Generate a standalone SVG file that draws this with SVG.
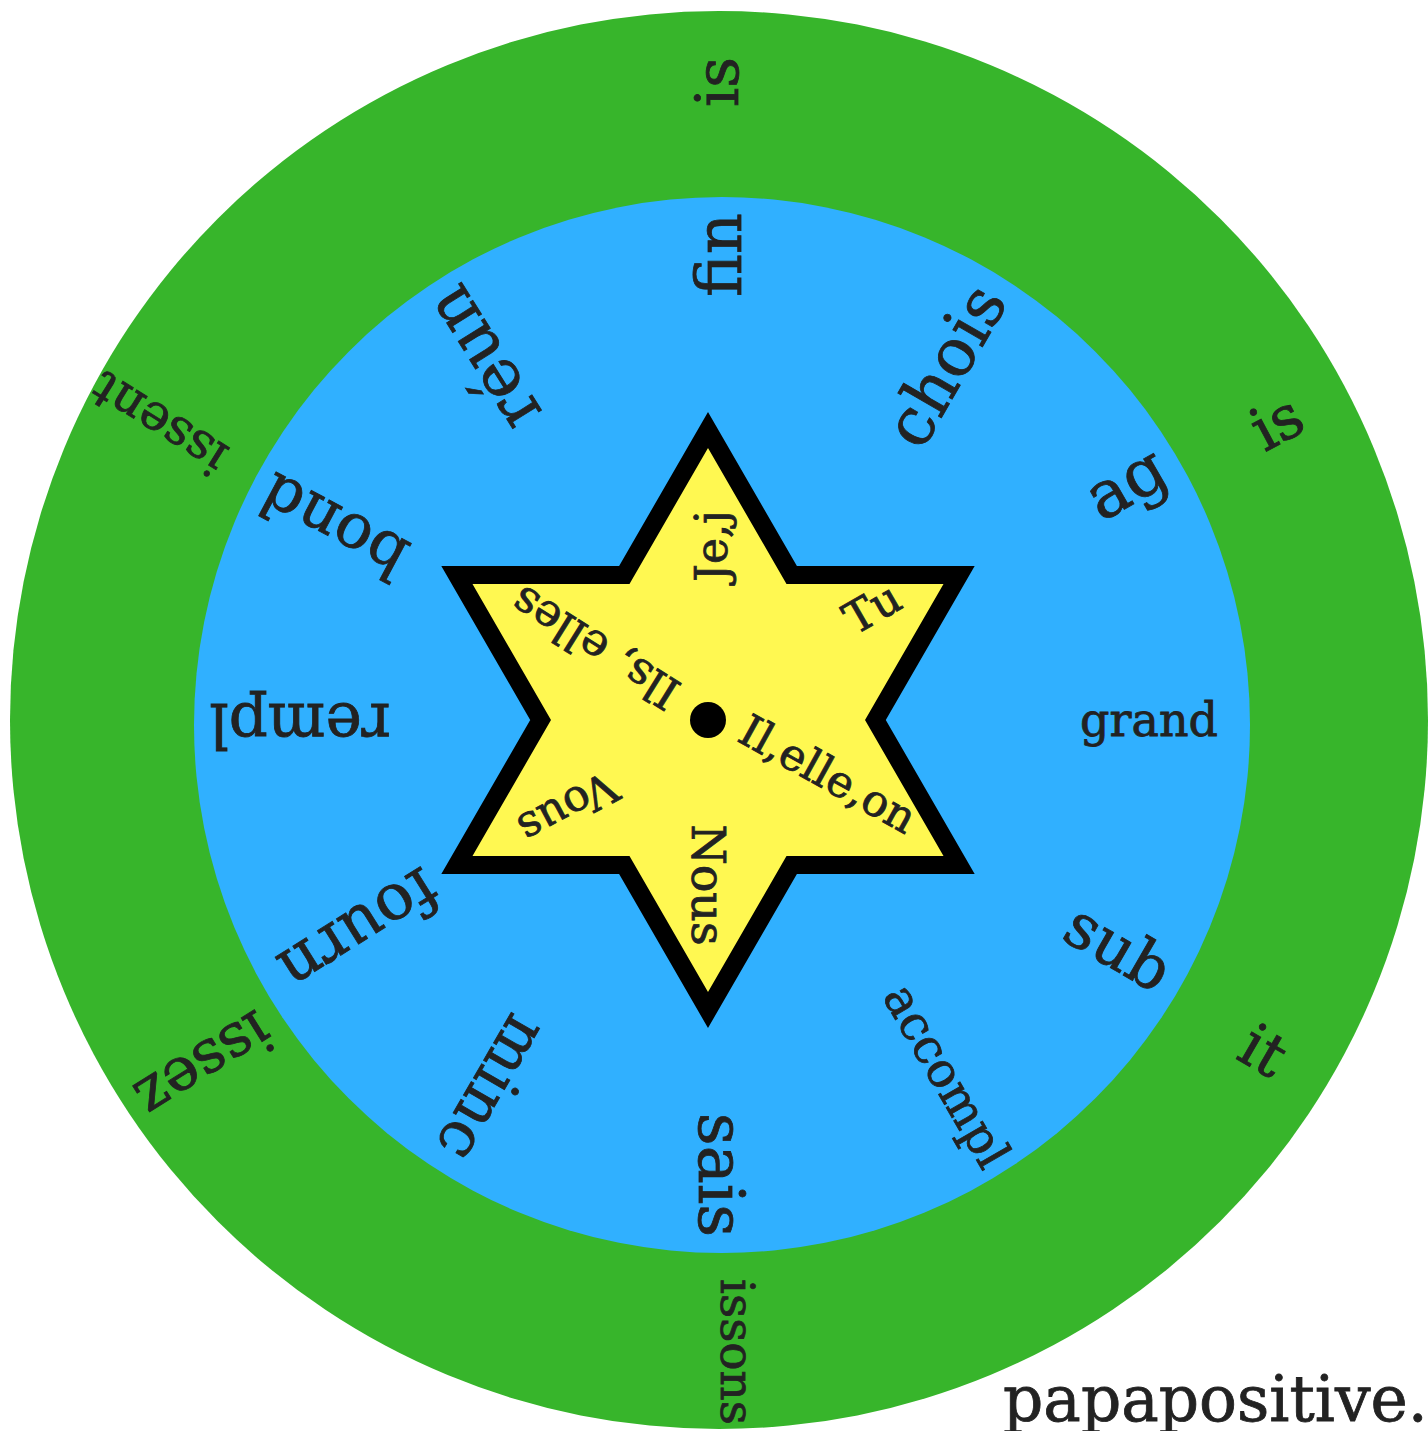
<svg xmlns="http://www.w3.org/2000/svg" width="1428" height="1431" viewBox="0 0 1428 1431">
<style>
text{font-family:"DejaVu Serif","Liberation Serif",serif;fill:#222222;stroke:#222222;stroke-width:0.8;text-anchor:middle}
.big{font-size:64px}
.ring{font-size:60px}
.star{font-size:44px}
</style>
<rect width="1428" height="1431" fill="#ffffff"/>
<g id="outer-ring"><circle cx="719" cy="720" r="709" fill="#37b52b"/></g>
<g id="inner-ring"><circle cx="722" cy="725" r="528" fill="#30b0ff"/></g>
<g id="star">
<path d="M708,430 L791.7,575 L959.1,575 L875.4,720 L959.1,865 L791.7,865 L708,1010 L624.3,865 L456.9,865 L540.6,720 L456.9,575 L624.3,575 Z" fill="#fff851" stroke="#000" stroke-width="18" stroke-linejoin="miter" stroke-miterlimit="10"/>
<circle cx="708" cy="720" r="18" fill="#000"/>
</g>
<g id="pronouns" class="star">
<text transform="translate(712,546) rotate(-90)" dy="0.35em">Je,j</text>
<text transform="translate(872,608) rotate(-30)" dy="0.35em">Tu</text>
<text transform="translate(828,774) rotate(29)" dy="0.35em">Il,elle,on</text>
<text transform="translate(708,885) rotate(90)" dy="0.35em" font-size="46">Nous</text>
<text transform="translate(568,808) rotate(152)" dy="0.35em">Vous</text>
<text transform="translate(595,648) rotate(212)" dy="0.35em" font-size="45">Ils, elles</text>
</g>
<g id="stems" class="big">
<text transform="translate(722,255) rotate(-90)" dy="0.3em">fin</text>
<text transform="translate(948,367) rotate(-60)" dy="0.3em" font-size="66">chois</text>
<text transform="translate(1127,485) rotate(-30)" dy="0.3em" font-size="66">ag</text>
<text transform="translate(1149,722) rotate(0)" dy="0.3em" font-size="46">grand</text>
<text transform="translate(1117,950) rotate(30)" dy="0.3em" font-size="62">sub</text>
<text transform="translate(945,1077) rotate(60)" dy="0.3em" font-size="48">accompl</text>
<text transform="translate(718,1175) rotate(90)" dy="0.3em">sais</text>
<text transform="translate(490,1087) rotate(120)" dy="0.3em" font-size="63">minc</text>
<text transform="translate(358,928) rotate(148)" dy="0.3em" font-size="64">fourn</text>
<text transform="translate(300,722) rotate(180)" dy="0.3em" font-size="61">rempl</text>
<text transform="translate(335,524) rotate(208)" dy="0.3em" font-size="62">bond</text>
<text transform="translate(485,357) rotate(238)" dy="0.3em" font-size="66">réun</text>
</g>
<g id="endings" class="ring">
<text transform="translate(720,82) rotate(-90)" dy="0.3em">is</text>
<text transform="translate(1278,425) rotate(-28)" dy="0.3em">is</text>
<text transform="translate(1262,1053) rotate(30)" dy="0.3em">it</text>
<text transform="translate(735,1352) rotate(90)" dy="0.3em" font-size="47">issons</text>
<text transform="translate(203,1063) rotate(148)" dy="0.3em">issez</text>
<text transform="translate(160,422) rotate(212)" dy="0.3em" font-size="50">issent</text>
</g>
<g id="connectors"></g>
<text x="1003" y="1421" font-size="63" style="text-anchor:start">papapositive.</text>
</svg>
